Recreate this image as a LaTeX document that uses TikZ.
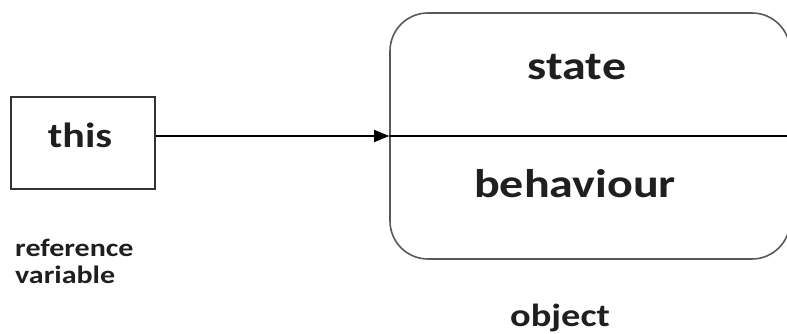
\documentclass[tikz,border=0pt]{standalone}
\usepackage{fontspec}
\setmainfont{Carlito}[FakeStretch=1.2]
\usetikzlibrary{arrows.meta}

\tikzset{
  txt/.style={inner sep=0pt, text=black!88, font=\bfseries\fontsize{#1}{#1}\selectfont},
  refbox/.style={draw=black!80, line width=1.6pt, minimum width=144pt, minimum height=92pt, inner sep=0pt},
  objbox/.style={draw=black!65, line width=1.6pt, rounded corners=38pt, minimum width=400pt, minimum height=246pt, inner sep=0pt}
}

\begin{document}
\begin{tikzpicture}[x=1pt,y=1pt]
  \useasboundingbox (0,0) rectangle (787,334);
  \clip (0,0) rectangle (787,334);
  % reference variable
  \node[refbox] (thisbox) at (83,191) {};
  \node[txt=35, anchor=base] (thistext) at (80,186) {this};
  \node[txt=25, anchor=base west, align=left] (reftext) at (15,50)
    {reference\\[2pt]variable};
  % object
  \node[objbox] (obj) at (590,198) {};
  \node[txt=40, anchor=base] (state) at (577,254) {state};
  \node[txt=40, anchor=base] (behav) at (575,136) {behaviour};
  \node[txt=32, anchor=base] (objtext) at (560,7) {object};
  % connectors
  \coordinate (start) at (thisbox.east |- obj.west);
  \draw[line width=1.4pt, -{Triangle[length=15pt,width=12pt]}] (start) -- (obj.west);
  \draw[line width=1.4pt] (obj.west) -- (obj.east);
\end{tikzpicture}
\end{document}
